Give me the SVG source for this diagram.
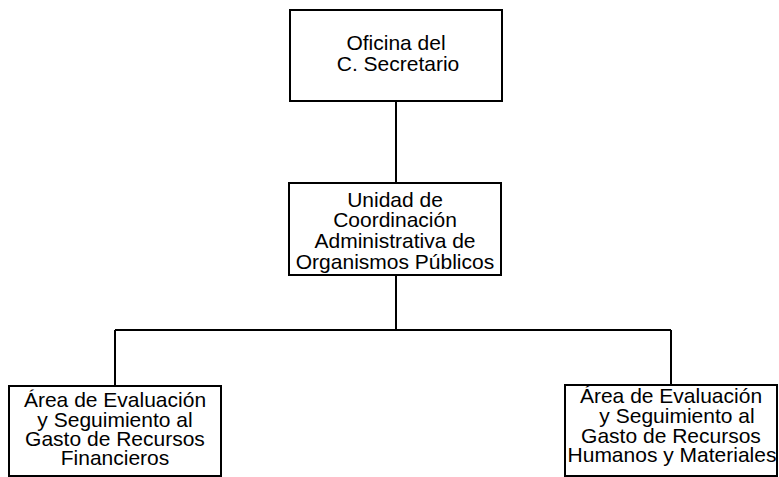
<svg xmlns="http://www.w3.org/2000/svg" width="779" height="477" viewBox="0 0 779 477">
<style>
.box{fill:#fff;stroke:#000;stroke-width:2}
.ln{fill:none;stroke:#000;stroke-width:2}
text{font-family:"Liberation Sans",Arial,sans-serif;font-size:21px;fill:#000;text-anchor:middle}
</style>
<rect width="779" height="477" fill="#fff"/>
<g id="connectors">
<path class="ln" d="M396 101V183"/>
<path class="ln" d="M396 275V330M115 330H671M115 330V386M671 330V385"/>
</g>
<g id="n1">
<rect class="box" x="290" y="10" width="212" height="91"/>
<text x="396" y="50">Oficina del</text>
<text x="398" y="71">C. Secretario</text>
</g>
<g id="n2">
<rect class="box" x="289" y="183" width="212" height="92"/>
<text x="395" y="207">Unidad de</text>
<text x="395" y="227">Coordinación</text>
<text x="395" y="248">Administrativa de</text>
<text x="395" y="269">Organismos Públicos</text>
</g>
<g id="n3">
<rect class="box" x="9" y="386" width="212" height="90"/>
<text x="115" y="407">Área de Evaluación</text>
<text x="115" y="427">y Seguimiento al</text>
<text x="115" y="446">Gasto de Recursos</text>
<text x="115" y="465">Financieros</text>
</g>
<g id="n4">
<rect class="box" x="565" y="385" width="212" height="91"/>
<text x="671" y="403">Área de Evaluación</text>
<text x="677" y="423">y Seguimiento al</text>
<text x="671" y="443">Gasto de Recursos</text>
<text x="672" y="462">Humanos y Materiales</text>
</g>
</svg>
